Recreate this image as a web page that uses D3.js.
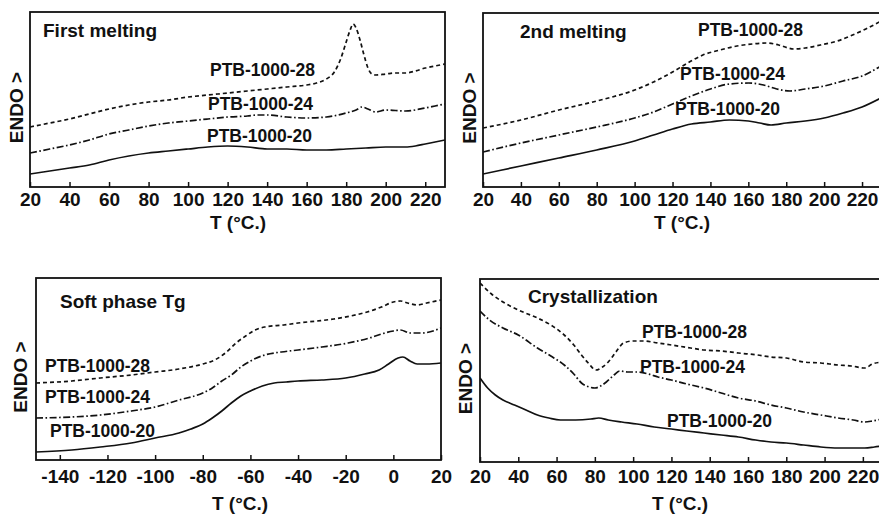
<!DOCTYPE html>
<html lang="en">
<head>
<meta charset="UTF-8" />
<title>DSC curves PTB-1000</title>
<script src="https://d3js.org/d3.v7.min.js"></script>
<style>
  html, body { margin: 0; padding: 0; background: #fff; }
  svg { display: block; }
  text { font-family: "Liberation Sans", Arial, Helvetica, sans-serif; font-weight: bold; fill: #111; }
</style>
</head>
<body>
<svg></svg>
<script>
// ---- data (y in arbitrary ENDO units) ----
const fmTicks = [20, 40, 60, 80, 100, 120, 140, 160, 180, 200, 220];
const tgTicks = [-140, -120, -100, -80, -60, -40, -20, 0, 20];

// First melting
const fm28T = [20,30,40,50,60,70,80,90,100,110,120,130,140,150,160,165,170,174,177,180,182,183.5,185,187,189,191,193,195,200,205,210,215,220,225,230];
const fm28  = [60,64,68,73,78,82,85,87,90,92,94,96,98,100,102,104,108,115,127,145,157,163,159,147,132,119,113,112,113,114,114,116,119,121,123];
const fm24T = [20,30,40,50,60,70,80,90,100,110,120,130,135,140,150,160,170,180,185,188,191,195,200,210,220,225,230];
const fm24  = [34,38,42,47,53,57,61,64,66,68,70,71,72,72,70,69,70,74,77,80,78,75,77,76,79,81,83];
const fm20T = [20,30,40,50,60,70,80,90,100,110,120,130,140,150,160,170,180,190,200,210,215,220,225,230];
const fm20  = [13,16,19,22,27,31,34,36,38,40,41,40,38,38,37,37,38,39,40,40,41,43,45,47];

// 2nd melting
const sm28T = [20,40,60,80,100,110,120,128,136,145,154,162,170,176,184,190,198,207,215,222,230];
const sm28  = [59,67,77,86,97,105,115,124,132,137,141,143,144,142,138,139,142,146,152,158,166];
const sm24T = [20,40,60,80,100,110,120,130,140,150,160,168,175,182,190,200,210,220,230];
const sm24  = [35,44,52,60,69,75,83,91,98,103,104,102,98,96,98,101,106,111,121];
const sm20T = [20,40,60,80,100,110,120,130,140,150,160,166,172,180,190,200,210,220,230];
const sm20  = [13,21,29,37,46,52,58,63,65,67,66,64,62,64,66,69,74,80,89];

// Soft phase Tg
const tg28T = [-150,-135,-123,-110,-100,-90,-80,-75,-70,-66,-62,-58,-54,-46,-40,-32,-25,-18,-11,-5,0,3,6,10,14,20];
const tg28  = [77,79,82,85,88,91,96,100,108,117,124,130,133,135,137,139,141,144,148,153,158,159,157,155,157,160];
const tg24T = [-150,-135,-123,-110,-100,-90,-80,-76,-72,-68,-64,-60,-54,-47,-40,-30,-19,-10,-5,0,3,7,12,20];
const tg24  = [42,43,45,49,53,60,67,72,79,85,93,99,105,108,110,113,117,122,126,129,130,127,127,132];
const tg20T = [-150,-135,-123,-110,-100,-90,-85,-80,-76,-72,-68,-64,-60,-55,-50,-45,-40,-30,-20,-12,-6,-2,2,4,7,10,14,20];
const tg20  = [8,10,13,17,22,27,31,36,42,49,57,64,69,74,77,78,79,80,82,86,90,96,102,103,99,96,96,97];

// Crystallization
const cr28T = [20,26,32,40,50,57,64,69,73,77,80.5,84,87,91,95,100,105,113,120,130,137,146,155,165,172,180,189,198,207,214,221,225,230];
const cr28  = [179,168,160,152,144,137,127,117,107,98,92,95,100,110,119,121,121,119,117,114,112,111,109,107,105,104,100,99,97,96,94,98,100];
const cr24T = [20,25,32,40,50,57,64,69,73,77,80,83,86,90,93,97,102,108,113,120,128,137,146,155,164,172,180,189,198,207,215,221,225,230];
const cr24  = [151,142,134,127,114,106,97,88,79,75,74,76,80,87,91,90,90,88,85,82,78,74,69,64,61,57,54,50,47,44,42,40,41,43];
const cr20T = [20,24,28,32,38,44,50,56,62,70,78,82,87,94,102,111,120,128,137,146,155,164,172,180,189,198,207,214,221,226,230];
const cr20  = [84,74,67,62,57,52,47,44,42,42,43,44,42,40,38,35,33,31,29,27,25,22,20,19,17,15,14,14,14,15,16];

const seriesNames = ["PTB-1000-28", "PTB-1000-24", "PTB-1000-20"];

// ---- layout ----
const W = 879, H = 515;
const styles = [
  { dash: "4,3", width: 1.7 },
  { dash: "7,2.5,1.6,2.5", width: 1.7 },
  { dash: null, width: 1.7 }
];

const panels = [
  { title: "First melting", tx: 43, ty: 37, x0: 30, x1: 445, y0: 12, y1: 187, xDom: [20, 230], yMax: 175,
    ticks: fmTicks, pad: 6, yTitleX: 17, xTitleX: 238, xTitleY: 229,
    series: [[fm28T, fm28], [fm24T, fm24], [fm20T, fm20]],
    labels: [[210, 76], [208, 110], [207, 142]] },
  { title: "2nd melting", tx: 520, ty: 38, x0: 483, x1: 881, y0: 13, y1: 187, xDom: [20, 230], yMax: 174,
    ticks: fmTicks, pad: 6, yTitleX: 470, xTitleX: 682, xTitleY: 229,
    series: [[sm28T, sm28], [sm24T, sm24], [sm20T, sm20]],
    labels: [[698, 36], [680, 80], [675, 115]] },
  { title: "Soft phase Tg", tx: 60, ty: 308, x0: 36, x1: 441, y0: 278, y1: 460, xDom: [-150, 20], yMax: 182,
    ticks: tgTicks, pad: 10, yTitleX: 21, xTitleX: 240, xTitleY: 510,
    series: [[tg28T, tg28], [tg24T, tg24], [tg20T, tg20]],
    labels: [[45, 372], [45, 403], [50, 437]] },
  { title: "Crystallization", tx: 528, ty: 303, x0: 480, x1: 882, y0: 279, y1: 462, xDom: [20, 230], yMax: 183,
    ticks: fmTicks, pad: 8, yTitleX: 466, xTitleX: 680, xTitleY: 510,
    series: [[cr28T, cr28], [cr24T, cr24], [cr20T, cr20]],
    labels: [[642, 338], [640, 373], [667, 427]] }
];

const svg = d3.select("svg").attr("width", W).attr("height", H);
svg.append("rect").attr("width", W).attr("height", H).attr("fill", "#fff");

panels.forEach((p, i) => {
  const x = d3.scaleLinear().domain(p.xDom).range([p.x0, p.x1]);
  const y = d3.scaleLinear().domain([0, p.yMax]).range([p.y1, p.y0]);
  const g = svg.append("g");

  const clipId = "clip" + i;
  g.append("clipPath").attr("id", clipId)
    .append("rect").attr("x", p.x0).attr("y", p.y0)
    .attr("width", p.x1 - p.x0).attr("height", p.y1 - p.y0);

  const line = d3.line().curve(d3.curveMonotoneX)
    .x(d => x(d[0])).y(d => y(d[1]));

  p.series.forEach(([ts, vs], k) => {
    g.append("path")
      .attr("clip-path", `url(#${clipId})`)
      .attr("d", line(ts.map((t, j) => [t, vs[j]])))
      .attr("fill", "none")
      .attr("stroke", "#111")
      .attr("stroke-width", styles[k].width)
      .attr("stroke-dasharray", styles[k].dash);
  });

  // frame
  g.append("rect")
    .attr("x", p.x0).attr("y", p.y0)
    .attr("width", p.x1 - p.x0).attr("height", p.y1 - p.y0)
    .attr("fill", "none").attr("stroke", "#111").attr("stroke-width", 1.8);

  // bottom axis, ticks inward, plain hyphen for negatives
  const ax = g.append("g").attr("transform", `translate(0,${p.y1})`)
    .call(d3.axisBottom(x).tickValues(p.ticks).tickFormat(d => String(d))
      .tickSizeInner(-5).tickSizeOuter(0).tickPadding(p.pad));
  ax.select(".domain").remove();
  ax.selectAll(".tick line").attr("stroke", "#111").attr("stroke-width", 1.5);
  ax.selectAll("text").attr("font-size", 19).attr("fill", "#111")
    .style("font-family", '"Liberation Sans", Arial, sans-serif').style("font-weight", "bold");

  g.append("text").attr("x", p.xTitleX).attr("y", p.xTitleY)
    .attr("text-anchor", "middle").attr("font-size", 19).text("T (°C.)");

  g.append("text")
    .attr("transform", `translate(${p.yTitleX + 6},${(p.y0 + p.y1) / 2 + 8}) rotate(-90)`)
    .attr("text-anchor", "middle").attr("font-size", 19).text("ENDO >");

  g.append("text").attr("x", p.tx).attr("y", p.ty).attr("font-size", 19).text(p.title);

  p.labels.forEach((l, k) => {
    g.append("text").attr("x", l[0]).attr("y", l[1]).attr("font-size", 17.5).text(seriesNames[k]);
  });
});
</script>
</body>
</html>
